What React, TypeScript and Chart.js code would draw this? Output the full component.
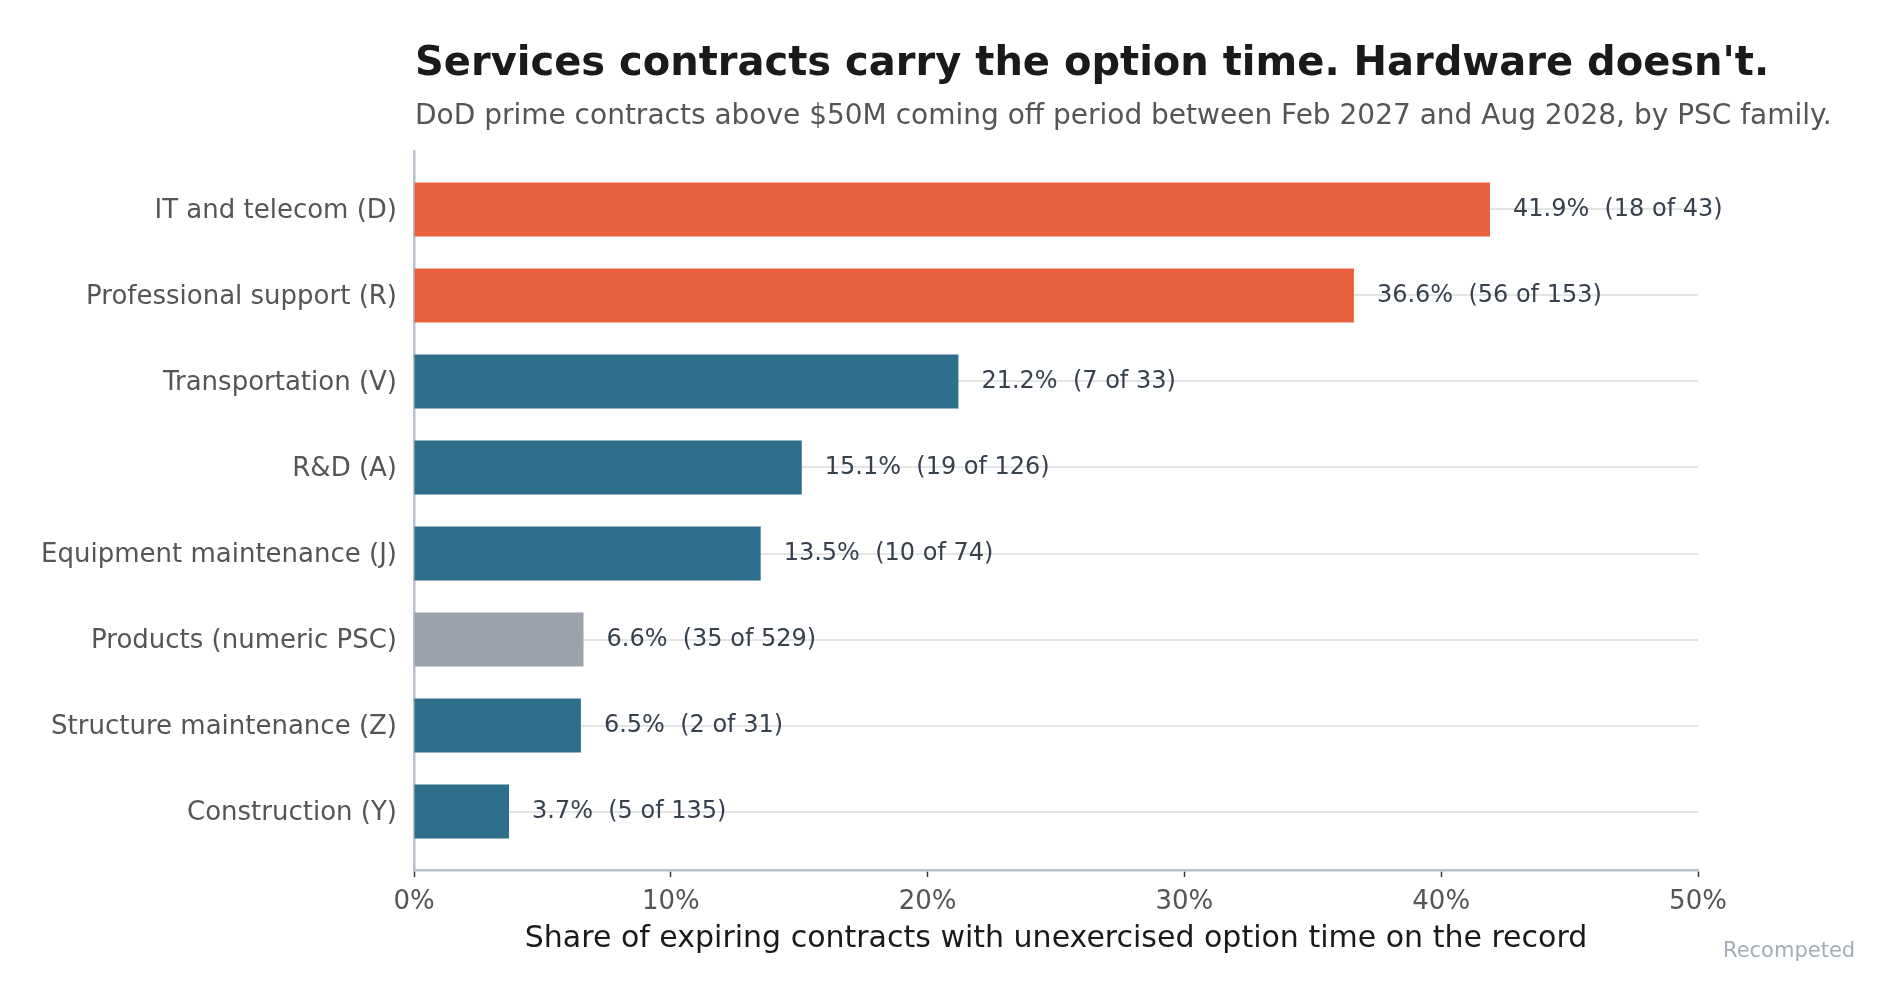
import React, { useEffect, useRef } from "react";
import {
  Chart,
  BarController,
  BarElement,
  LinearScale,
  Tooltip,
} from "chart.js";

Chart.register(BarController, BarElement, LinearScale, Tooltip);

// PSC families, top to bottom
const categories = [
  "IT and telecom (D)",
  "Professional support (R)",
  "Transportation (V)",
  "R&D (A)",
  "Equipment maintenance (J)",
  "Products (numeric PSC)",
  "Structure maintenance (Z)",
  "Construction (Y)",
];
const shares = [41.9, 36.6, 21.2, 15.1, 13.5, 6.6, 6.5, 3.7];
const withOptionTime = [18, 56, 7, 19, 10, 35, 2, 5];
const totals = [43, 153, 33, 126, 74, 529, 31, 135];
const kinds = ["focus", "focus", "service", "service", "service", "product", "service", "service"];
const xTicks = [0, 10, 20, 30, 40, 50];

const TITLE = "Services contracts carry the option time. Hardware doesn't.";
const SUBTITLE =
  "DoD prime contracts above $50M coming off period between Feb 2027 and Aug 2028, by PSC family.";
const X_TITLE = "Share of expiring contracts with unexercised option time on the record";
const NOTE = "Recompeted";

const FONT = "'DejaVu Sans', sans-serif";
const kindColor: Record<string, string> = {
  focus: "#e8603e",
  service: "#2e6f8e",
  product: "#9aa3ab",
};

// title, subtitle, bar value labels and the corner note
const textPlugin = {
  id: "textLayer",
  afterDatasetsDraw: (chart: any) => {
    const { ctx, chartArea } = chart;
    ctx.save();

    ctx.textAlign = "left";
    ctx.textBaseline = "alphabetic";
    ctx.fillStyle = "#1a1a1a";
    ctx.font = `bold 40px ${FONT}`;
    ctx.fillText(TITLE, chartArea.left + 1, 75);

    ctx.fillStyle = "#555555";
    ctx.font = `28px ${FONT}`;
    ctx.fillText(SUBTITLE, chartArea.left + 1, 124);

    const meta = chart.getDatasetMeta(0);
    ctx.font = `24px ${FONT}`;
    ctx.fillStyle = "#36414d";
    ctx.textBaseline = "middle";
    meta.data.forEach((bar: any, i: number) => {
      const label = `${shares[i].toFixed(1)}%  (${withOptionTime[i]} of ${totals[i]})`;
      ctx.fillText(label, bar.x + 23, bar.y);
    });

    ctx.font = `21px ${FONT}`;
    ctx.fillStyle = "#a3adb6";
    ctx.fillText(NOTE, chartArea.right + 25, 952);

    ctx.restore();
  },
};

export default function App() {
  const canvasRef = useRef<HTMLCanvasElement | null>(null);

  useEffect(() => {
    document.body.style.margin = "0";
    const ctx = canvasRef.current?.getContext("2d");
    if (!ctx) return;

    const chart = new Chart(ctx, {
      type: "bar",
      data: {
        datasets: [
          {
            data: shares.map((v, i) => ({ x: v, y: i })),
            backgroundColor: kinds.map((k) => kindColor[k]),
            borderWidth: 0,
            barPercentage: 1,
            categoryPercentage: 0.63,
          },
        ],
      },
      options: {
        indexAxis: "y",
        responsive: false,
        animation: false,
        devicePixelRatio: 1,
        layout: { padding: { top: 151, right: 202, left: 0, bottom: 0 } },
        plugins: {
          legend: { display: false },
          tooltip: { enabled: false },
        },
        scales: {
          x: {
            type: "linear",
            min: 0,
            max: 50,
            afterBuildTicks: (axis: any) => {
              axis.ticks = xTicks.map((v) => ({ value: v }));
            },
            afterFit: (axis: any) => {
              axis.height = 137;
            },
            ticks: {
              callback: (v: any) => `${v}%`,
              color: "#555555",
              font: { family: FONT, size: 26 },
              padding: 10,
              maxRotation: 0,
            },
            grid: {
              drawOnChartArea: false,
              drawTicks: true,
              tickLength: 7,
              tickColor: "#333333",
              tickWidth: 1.5,
            },
            border: { color: "#b9c1cc", width: 2.5 },
            title: {
              display: true,
              text: X_TITLE,
              color: "#1a1a1a",
              font: { family: FONT, size: 30 },
              padding: { top: 0, bottom: 50 },
            },
          },
          y: {
            type: "linear",
            min: -0.68,
            max: 7.68,
            reverse: true,
            offset: false,
            afterBuildTicks: (axis: any) => {
              axis.ticks = categories.map((_, i) => ({ value: i }));
            },
            afterFit: (axis: any) => {
              axis.width = 414;
            },
            ticks: {
              callback: (v: any) => categories[v] ?? "",
              color: "#555555",
              font: { family: FONT, size: 26 },
              padding: 17,
              labelOffset: 2,
            },
            grid: {
              offset: false,
              drawTicks: false,
              color: "#e4e4e4",
              lineWidth: 2,
            },
            border: { color: "#b9c1cc", width: 2.5 },
          },
        },
      } as any,
      plugins: [textPlugin],
    });

    return () => {
      chart.destroy();
    };
  }, []);

  return (
    <div style={{ width: 1900, height: 1007, background: "#ffffff" }}>
      <canvas ref={canvasRef} width={1900} height={1007} style={{ display: "block" }} />
    </div>
  );
}
